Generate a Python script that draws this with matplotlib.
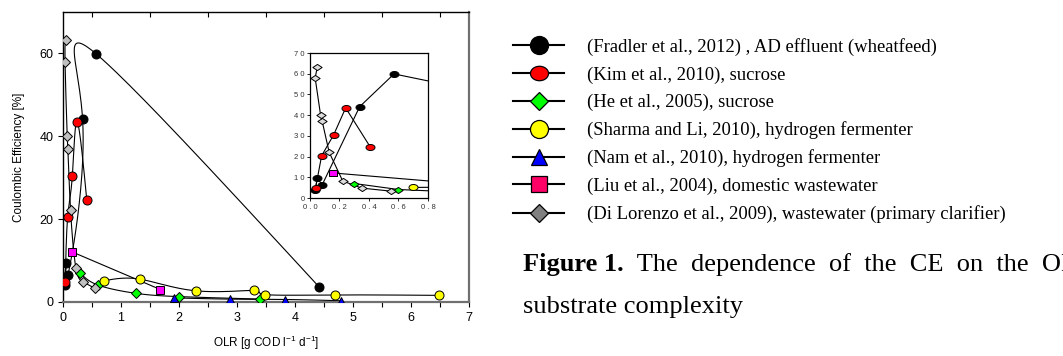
import numpy as np
import matplotlib
matplotlib.use("Agg")
import matplotlib.pyplot as plt
from matplotlib.path import Path
from matplotlib.lines import Line2D

plt.rcParams['font.family'] = ['Liberation Sans', 'DejaVu Sans']
plt.rcParams['mathtext.default'] = 'regular'

# ---- data (OLR [g COD/l/d], CE [%]) ----
fradler_x = [0.035, 0.05, 0.083, 0.337, 0.57, 4.41]
fradler_y = [4.1, 9.5, 6.4, 44.1, 59.9, 3.7]
kim_x = [0.038, 0.079, 0.16, 0.242, 0.41]
kim_y = [4.9, 20.4, 30.4, 43.5, 24.5]
he_x = [0.30, 0.60, 1.25, 2.0, 3.4]
he_y = [7.0, 4.1, 2.1, 1.3, 0.7]
sharma_x = [0.70, 1.33, 2.29, 3.29, 3.48, 4.69, 6.48]
sharma_y = [5.1, 5.5, 2.7, 2.8, 1.8, 1.7, 1.6]
nam_x = [1.91, 2.87, 3.83, 4.79]
nam_y = [1.0, 0.7, 0.6, 0.3]
liu_x = [0.155, 1.68]
liu_y = [12.1, 3.0]
dilorenzo_x = [0.05, 0.035, 0.072, 0.083, 0.13, 0.222, 0.35, 0.55]
dilorenzo_y = [63.3, 58.0, 40.0, 37.0, 22.1, 8.2, 4.8, 3.3]

labels = [
    "(Fradler et al., 2012) , AD effluent (wheatfeed)",
    "(Kim et al., 2010), sucrose",
    "(He et al., 2005), sucrose",
    "(Sharma and Li, 2010), hydrogen fermenter",
    "(Nam et al., 2010), hydrogen fermenter",
    "(Liu et al., 2004), domestic wastewater",
    "(Di Lorenzo et al., 2009), wastewater (primary clarifier)",
]
inset_xticklabels = ["0 . 0", "0 . 2", "0 . 4", "0 . 6", "0 . 8"]
inset_yticklabels = ["0", "1 0", "2 0", "3 0", "4 0", "5 0", "6 0", "7 0"]


def natural_spline(p, n=40):
    """parametric natural cubic spline (by point index), like the SigmaPlot curve"""
    p = np.asarray(p, float)
    k = len(p)
    if k < 3:
        return p
    A = np.zeros((k, k))
    b = np.zeros(k)
    A[0, 0] = A[-1, -1] = 1
    for i in range(1, k - 1):
        A[i, i - 1], A[i, i], A[i, i + 1] = 1, 4, 1
        b[i] = 6 * (p[i + 1] - 2 * p[i] + p[i - 1])
    M = np.linalg.solve(A, b)
    s = np.linspace(0, 1, n)
    out = []
    for i in range(k - 1):
        seg = ((1 - s) * p[i] + s * p[i + 1]
               + (((1 - s) ** 3 - (1 - s)) * M[i] + (s ** 3 - s) * M[i + 1]) / 6)
        out.append(seg if i == 0 else seg[1:])
    return np.concatenate(out)


def wide(shape, r=1.5):
    if shape == 'ellipse':
        t = np.linspace(0, 2 * np.pi, 41)
        v = np.column_stack([r * np.cos(t), np.sin(t)])
    elif shape == 'diamond':
        v = [(-r, 0), (0, 1), (r, 0), (0, -1), (-r, 0)]
    else:
        v = [(-r, -1), (r, -1), (r, 1), (-r, 1), (-r, -1)]
    return Path(v, closed=True)


series = [
    (fradler_x, fradler_y, 'o', 'black', 6.5, 'ellipse', 'black'),
    (kim_x, kim_y, 'o', '#ff0000', 6.5, 'ellipse', '#ff0000'),
    (he_x, he_y, 'D', '#00ff00', 4.6, 'diamond', '#00ff00'),
    (sharma_x, sharma_y, 'o', '#ffff00', 6.5, 'ellipse', '#ffff00'),
    (nam_x, nam_y, '^', '#0000ff', 6.0, None, '#0000ff'),
    (liu_x, liu_y, 's', '#ff00ff', 5.6, 'rect', '#ff00ff'),
    (dilorenzo_x, dilorenzo_y, 'D', '#c0c0c0', 4.6, 'diamond', '#dcdcdc'),
]

fig = plt.figure(figsize=(10.63, 3.56), dpi=100)
ax = fig.add_axes([0.0593, 0.1517, 0.382, 0.8146])

for x, y, m, c, ms, im, ic in series:
    ax.plot(natural_spline(x), natural_spline(y), color='black', lw=0.8, zorder=2)
for x, y, m, c, ms, im, ic in series:
    ax.plot(x, y, ls='none', marker=m, ms=ms, mfc=c, mec='black', mew=0.7, zorder=3)

ax.set_xlim(0, 7)
ax.set_ylim(0, 70)
ax.set_xticks(range(8))
ax.set_xticks(np.arange(0.5, 7, 1.0), minor=True)
ax.set_yticks([0, 20, 40, 60])
ax.tick_params(which='both', direction='out', length=3.5, width=0.8, labelsize=9)
ax.tick_params(axis='x', which='minor', length=3.5)
top = ax.secondary_xaxis('top')
top.set_xticks(np.arange(0.5, 7, 1.0))
top.tick_params(direction='in', length=3.5, width=0.8, labeltop=False)
top.spines['top'].set_visible(False)
ax.spines['left'].set_linewidth(1.0)
ax.spines['top'].set_linewidth(1.0)
for sp in ['right', 'bottom']:
    ax.spines[sp].set_color('#707070')
    ax.spines[sp].set_linewidth(1.6)
ax.set_xlabel('OLR [g COD l$^{-1}$ d$^{-1}$]', fontsize=8.5, labelpad=7)
ax.set_ylabel('Coulombic Efficiency [%]', fontsize=8.5, labelpad=10)

# inset zoom on low OLR
ins = fig.add_axes([0.2916, 0.4438, 0.111, 0.4073])
for x, y, m, c, ms, im, ic in series:
    ins.plot(x, y, color='black', lw=0.8, zorder=2)
    if im is not None:
        ins.plot(x, y, ls='none', marker=wide(im), ms=ms * 1.45 if m == 'D' else ms,
                 mfc=ic, mec='black', mew=0.7, zorder=3)
ins.set_xlim(0, 0.8)
ins.set_ylim(0, 70)
ins.set_xticks(np.arange(0, 0.81, 0.2))
ins.set_xticklabels(inset_xticklabels)
ins.set_yticks(range(0, 71, 10))
ins.set_yticklabels(inset_yticklabels)
ins.tick_params(direction='out', length=2, width=0.6, labelsize=5.5, labelcolor='#333333', pad=2)
for sp in ins.spines.values():
    sp.set_linewidth(0.9)

# legend
handles = []
for x, y, m, c, ms, im, ic in series:
    handles.append(Line2D([], [], color='black', lw=1.5, marker=m, ms=ms * 2, mfc=c, mec='black', mew=0.9))
handles[1] = Line2D([], [], color='black', lw=1.5, marker=wide('ellipse', 1.25), ms=13,
                    mfc='#ff0000', mec='black', mew=0.9)
handles[5].set_markerfacecolor('#ff0066')
handles[6].set_markerfacecolor('#808080')
fig.legend(handles, labels, loc='upper left', bbox_to_anchor=(0.4826, 0.893), frameon=False,
           borderpad=0, borderaxespad=0, handlelength=2.75, handletextpad=1.25, labelspacing=0.55,
           prop={'family': 'Liberation Serif', 'size': 13.4})

# caption (first line is justified in the source, hence the wider word gaps)
cap = fig.text(523 / 1063, 1 - 271 / 356, 'Figure 1.', fontsize=19, fontweight='bold',
               family='Liberation Serif', va='baseline')
fig.add_artist(plt.Annotation('  The  dependence  of  the  CE  on  the  OLR', xy=(1, 0), xycoords=cap,
                              va='bottom', ha='left', fontsize=19, family='Liberation Serif'))
fig.text(523 / 1063, 1 - 313 / 356, 'substrate complexity', fontsize=19,
         family='Liberation Serif', va='baseline')

fig.savefig('out.png', dpi=100)
